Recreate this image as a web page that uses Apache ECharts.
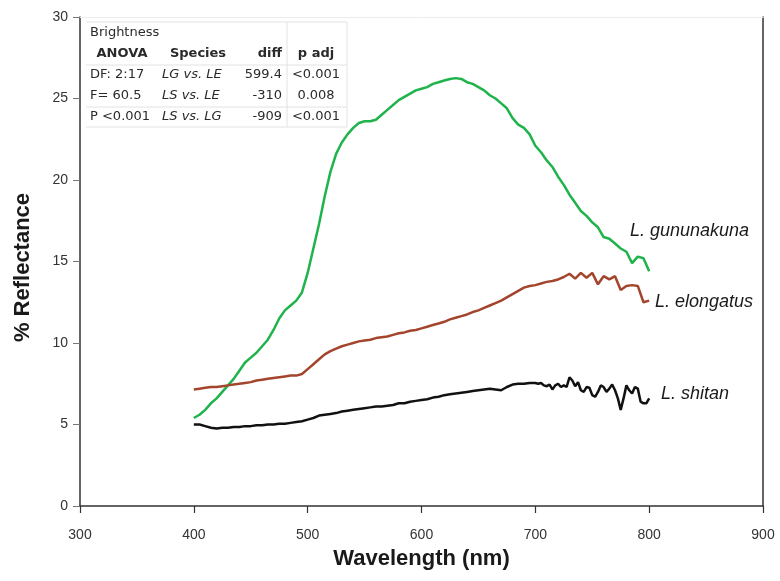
<!DOCTYPE html>
<html><head><meta charset="utf-8">
<script src="https://cdn.jsdelivr.net/npm/echarts/dist/echarts.min.js"></script>
<style>html,body{margin:0;padding:0;background:#fff}#c{width:780px;height:581px}</style>
</head><body><div id="c"></div><script>
// Wavelengths (nm)
const wlMain = [400,405,410,415,420,425,430,435,440,445,450,455,460,465,470,475,480,485,490,495,
  500,505,510,515,520,525,530,535,540,545,550,555,560,565,570,575,580,585,590,595,
  600,605,610,615,620,625,630,635,640,645,650,655,660,665,670,675,680,685,690,695,
  700,705,710,715,720,725,730,735,740,745,750,755,760,765,770,775,780,785,790,795,800];
const wlShitan = [400,405,410,415,420,425,430,435,440,445,450,455,460,465,470,475,480,485,490,495,
  500,505,510,515,520,525,530,535,540,545,550,555,560,565,570,575,580,585,590,595,
  600,605,610,615,620,625,630,635,640,645,650,655,660,665,670,675,680,685,690,695,700,
  702.5,705,707.5,710,712.5,715,717.5,720,722.5,725,727.5,730,732.5,735,737.5,740,742.5,745,747.5,750,
  752.5,755,757.5,760,762.5,765,767.5,770,772.5,775,777.5,780,782.5,785,787.5,790,792.5,795,797.5,800];
// % Reflectance
const gununakuna = [5.4,5.6,5.9,6.3,6.6,7.0,7.4,7.8,8.3,8.8,9.1,9.4,9.8,10.2,10.8,11.5,12.0,12.3,12.6,13.1,
  14.3,15.8,17.3,19.0,20.5,21.6,22.3,22.8,23.2,23.5,23.6,23.6,23.7,24.0,24.3,24.6,24.9,25.1,25.3,25.5,
  25.6,25.7,25.9,26.0,26.1,26.2,26.25,26.2,26.0,25.9,25.7,25.5,25.2,25.0,24.7,24.4,23.8,23.4,23.2,22.8,
  22.1,21.7,21.2,20.8,20.2,19.7,19.1,18.6,18.1,17.8,17.4,17.1,16.5,16.4,16.1,15.8,15.6,14.9,15.3,15.2,14.4];
const elongatus = [7.15,7.2,7.25,7.3,7.3,7.35,7.4,7.45,7.5,7.55,7.6,7.7,7.75,7.8,7.85,7.9,7.95,8.0,8.0,8.1,
  8.4,8.7,9.0,9.3,9.5,9.65,9.8,9.9,10.0,10.1,10.15,10.2,10.3,10.35,10.4,10.5,10.6,10.65,10.75,10.8,
  10.9,11.0,11.1,11.2,11.3,11.45,11.55,11.65,11.75,11.9,12.0,12.15,12.3,12.45,12.6,12.8,13.0,13.2,13.4,13.5,
  13.55,13.65,13.75,13.8,13.9,14.05,14.25,13.95,14.3,14.0,14.3,13.6,14.1,13.9,14.1,13.25,13.5,13.55,13.5,12.5,12.6];
const shitan = [5.0,5.0,4.9,4.8,4.75,4.8,4.8,4.85,4.85,4.9,4.9,4.95,4.95,5.0,5.0,5.05,5.05,5.1,5.15,5.2,
  5.3,5.4,5.55,5.6,5.65,5.7,5.8,5.85,5.9,5.95,6.0,6.05,6.1,6.1,6.15,6.2,6.3,6.3,6.4,6.45,
  6.5,6.55,6.65,6.7,6.8,6.85,6.9,6.95,7.0,7.05,7.1,7.15,7.2,7.15,7.1,7.3,7.45,7.5,7.5,7.55,7.55,
  7.5,7.55,7.4,7.35,7.45,7.15,7.4,7.5,7.3,7.4,7.3,7.9,7.7,7.35,7.6,7.1,7.0,7.3,7.25,6.8,
  6.7,7.0,7.4,7.3,7.0,7.2,7.45,7.1,6.6,5.9,6.6,7.4,7.1,6.9,7.3,7.2,6.4,6.3,6.3,6.6];
const xTicks = [300,400,500,600,700,800,900];
const yTicks = [0,5,10,15,20,25,30];
const seriesNames = ['L. gununakuna','L. elongatus','L. shitan'];
// Stats table text
const tableRows = [
  ['Brightness','','',''],
  ['ANOVA','Species','diff','p adj'],
  ['DF: 2:17','LG vs. LE','599.4','<0.001'],
  ['F= 60.5','LS vs. LE','-310','0.008'],
  ['P <0.001','LS vs. LG','-909','<0.001']
];

const pairs = (xs, ys) => xs.map((x, i) => [x, ys[i]]);
const chart = echarts.init(document.getElementById('c'), null, {renderer:'canvas'});

const tableGraphics = [];
const rowY = [33, 54, 75, 96, 117];
const colSpec = [
  {x: 90, align: 'left'},
  {x: 162, align: 'left'},
  {x: 282, align: 'right'},
  {x: 316, align: 'center'}
];
tableRows.forEach((row, r) => {
  row.forEach((txt, c) => {
    if (!txt) return;
    let x = colSpec[c].x, align = colSpec[c].align;
    if (r === 1 && c === 0) { x = 122; align = 'center'; }
    if (r === 1 && c === 1) { x = 198; align = 'center'; }
    tableGraphics.push({
      type: 'text', x: x, y: rowY[r], z: 10,
      style: {
        text: txt, textAlign: align, textVerticalAlign: 'middle',
        font: (r === 1 ? 'bold ' : (c === 1 && r > 1 ? 'italic ' : '')) + '13px "DejaVu Sans", sans-serif',
        fill: '#2a2a2a'
      }
    });
  });
});
const lineStyle = {stroke: '#e2e2e2', lineWidth: 1};
[[86,22,347,22],[86,65,347,65],[86,107,347,107],[86,127,347,127],[287,22,287,127],[347,22,347,127]].forEach(l => {
  tableGraphics.push({type:'line', z: 9, shape:{x1:l[0],y1:l[1],x2:l[2],y2:l[3]}, style: lineStyle});
});

const labelFont = 'italic 18px "Liberation Sans", Arial, sans-serif';
const seriesLabels = [
  {text: seriesNames[0], x: 630, y: 231},
  {text: seriesNames[1], x: 655, y: 302},
  {text: seriesNames[2], x: 661, y: 394}
].map(o => ({type:'text', x:o.x, y:o.y, z: 10, style:{text:o.text, font: labelFont, fill:'#1a1a1a', textVerticalAlign:'middle'}}));

chart.setOption({
  animation: false,
  backgroundColor: '#fff',
  grid: {left: 80, right: 17, top: 17, bottom: 75, containLabel: false},
  xAxis: [{
    type: 'value', min: 300, max: 900, interval: 100,
    name: 'Wavelength (nm)', nameLocation: 'middle', nameGap: 42,
    nameTextStyle: {fontFamily: '"Liberation Sans", Arial, sans-serif', fontWeight: 'bold', fontSize: 22, color: '#1a1a1a'},
    axisLine: {show: true, onZero: false, lineStyle: {color: '#333', width: 1.5}},
    axisTick: {show: true, length: 7, lineStyle: {color: '#333', width: 1.2}},
    axisLabel: {margin: 22, fontFamily: '"Liberation Sans", Arial, sans-serif', fontSize: 14, color: '#333',
      formatter: v => xTicks.includes(v) ? String(v) : ''},
    splitLine: {show: false}
  }, {
    type: 'value', position: 'top', min: 300, max: 900,
    axisLine: {show: true, onZero: false, lineStyle: {color: '#ececec', width: 1}},
    axisTick: {show: false}, axisLabel: {show: false}, splitLine: {show: false}
  }],
  yAxis: [{
    type: 'value', min: 0, max: 30, interval: 5,
    name: '% Reflectance', nameLocation: 'middle', nameGap: 46,
    nameTextStyle: {fontFamily: '"Liberation Sans", Arial, sans-serif', fontWeight: 'bold', fontSize: 22, color: '#1a1a1a',
      padding: [0, 12, 0, 0]},
    axisLine: {show: true, onZero: false, lineStyle: {color: '#333', width: 1.5}},
    axisTick: {show: true, length: 7, lineStyle: {color: '#777', width: 1}},
    axisLabel: {margin: 12, fontFamily: '"Liberation Sans", Arial, sans-serif', fontSize: 14, color: '#333',
      formatter: v => yTicks.includes(v) ? String(v) : ''},
    splitLine: {show: false}
  }, {
    type: 'value', position: 'right', min: 0, max: 30,
    axisLine: {show: true, onZero: false, lineStyle: {color: '#333', width: 1.5}},
    axisTick: {show: false}, axisLabel: {show: false}, splitLine: {show: false}
  }],
  series: [
    {name: seriesNames[0], type: 'line', data: pairs(wlMain, gununakuna), showSymbol: false, symbol: 'none',
      lineStyle: {color: '#1fb34b', width: 2.5}, itemStyle: {color: '#1fb34b'}},
    {name: seriesNames[1], type: 'line', data: pairs(wlMain, elongatus), showSymbol: false, symbol: 'none',
      lineStyle: {color: '#a3452c', width: 2.5}, itemStyle: {color: '#a3452c'}},
    {name: seriesNames[2], type: 'line', data: pairs(wlShitan, shitan), showSymbol: false, symbol: 'none',
      lineStyle: {color: '#111', width: 2.5}, itemStyle: {color: '#111'}}
  ],
  graphic: tableGraphics.concat(seriesLabels)
});
</script></body></html>
